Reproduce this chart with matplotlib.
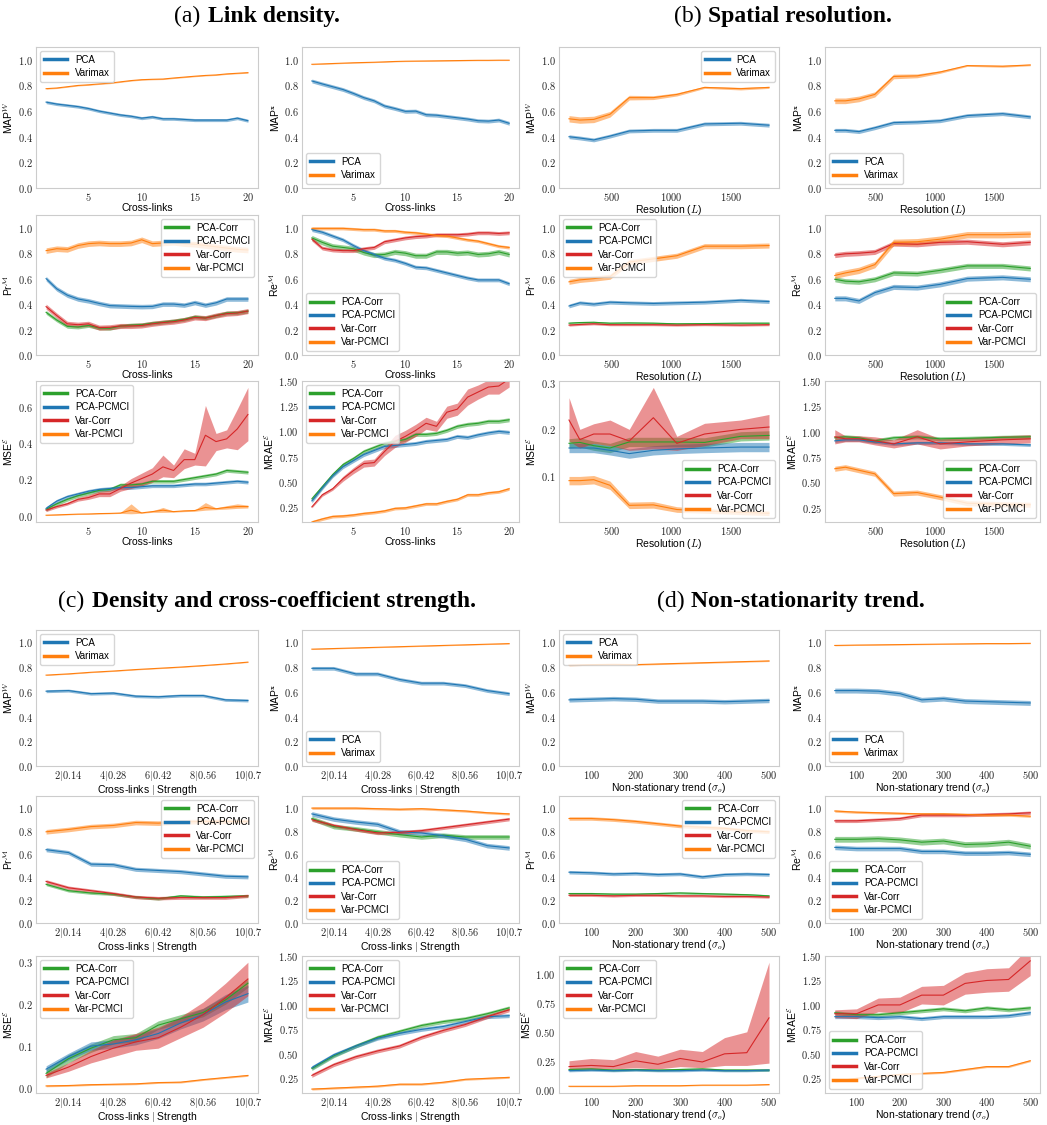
import matplotlib
matplotlib.use("Agg")
import matplotlib.pyplot as plt
import numpy as np
from matplotlib.lines import Line2D
from matplotlib.offsetbox import AnnotationBbox, HPacker, TextArea
from matplotlib.ticker import FuncFormatter

plt.rcParams["font.family"] = ["Liberation Sans", "DejaVu Sans"]
plt.rcParams["mathtext.fontset"] = "cm"

COLORS = {
    "PCA": "#1f77b4",
    "Varimax": "#ff7f0e",
    "PCA-Corr": "#2ca02c",
    "PCA-PCMCI": "#1f77b4",
    "Var-Corr": "#d62728",
    "Var-PCMCI": "#ff7f0e",
}

# ---------------- (a) link density ----------------
links = np.arange(1, 21)

link_map_w = {
    "PCA": [0.670, 0.655, 0.645, 0.635, 0.620, 0.600, 0.585, 0.570, 0.560, 0.545,
            0.555, 0.540, 0.540, 0.535, 0.530, 0.530, 0.530, 0.530, 0.545, 0.525],
    "Varimax": [0.775, 0.780, 0.790, 0.800, 0.805, 0.812, 0.818, 0.828, 0.838, 0.845,
                0.848, 0.850, 0.858, 0.865, 0.872, 0.878, 0.882, 0.890, 0.895, 0.900],
}
link_map_w_ci = {"PCA": 0.012, "Varimax": 0.004}

link_map_x = {
    "PCA": [0.835, 0.812, 0.790, 0.768, 0.738, 0.705, 0.680, 0.640, 0.620, 0.598,
            0.600, 0.572, 0.568, 0.558, 0.548, 0.538, 0.525, 0.522, 0.530, 0.505],
    "Varimax": [0.965, 0.968, 0.971, 0.974, 0.977, 0.979, 0.981, 0.984, 0.987, 0.989,
                0.990, 0.991, 0.992, 0.993, 0.994, 0.995, 0.996, 0.996, 0.997, 0.997],
}
link_map_x_ci = {"PCA": 0.015, "Varimax": 0.003}

link_pr = {
    "PCA-Corr": [0.335, 0.275, 0.225, 0.220, 0.232, 0.212, 0.210, 0.228, 0.235, 0.238,
                 0.250, 0.258, 0.268, 0.280, 0.300, 0.292, 0.310, 0.330, 0.332, 0.345],
    "PCA-PCMCI": [0.600, 0.520, 0.470, 0.440, 0.425, 0.405, 0.388, 0.385, 0.382, 0.380,
                  0.382, 0.400, 0.400, 0.392, 0.412, 0.392, 0.410, 0.440, 0.440, 0.440],
    "Var-Corr": [0.380, 0.310, 0.245, 0.238, 0.245, 0.215, 0.218, 0.228, 0.228, 0.232,
                 0.245, 0.255, 0.262, 0.275, 0.295, 0.290, 0.310, 0.325, 0.330, 0.345],
    "Var-PCMCI": [0.820, 0.835, 0.830, 0.860, 0.875, 0.880, 0.875, 0.875, 0.880, 0.905,
                  0.875, 0.880, 0.885, 0.875, 0.870, 0.860, 0.850, 0.840, 0.830, 0.825],
}
link_pr_ci = {"PCA-Corr": 0.015, "PCA-PCMCI": 0.018, "Var-Corr": 0.02, "Var-PCMCI": 0.022}

link_re = {
    "PCA-Corr": [0.920, 0.885, 0.855, 0.845, 0.835, 0.805, 0.785, 0.790, 0.810, 0.800,
                 0.780, 0.780, 0.810, 0.810, 0.800, 0.805, 0.790, 0.795, 0.810, 0.790],
    "PCA-PCMCI": [0.985, 0.965, 0.935, 0.905, 0.860, 0.820, 0.790, 0.760, 0.745, 0.720,
                  0.690, 0.685, 0.665, 0.645, 0.625, 0.605, 0.590, 0.590, 0.590, 0.560],
    "Var-Corr": [0.910, 0.840, 0.825, 0.820, 0.820, 0.835, 0.845, 0.890, 0.905, 0.920,
                 0.930, 0.935, 0.945, 0.945, 0.945, 0.950, 0.960, 0.960, 0.955, 0.960],
    "Var-PCMCI": [0.995, 0.995, 0.995, 0.995, 0.990, 0.985, 0.985, 0.975, 0.975, 0.965,
                  0.960, 0.950, 0.940, 0.935, 0.920, 0.905, 0.895, 0.875, 0.855, 0.845],
}
link_re_ci = {"PCA-Corr": 0.02, "PCA-PCMCI": 0.015, "Var-Corr": 0.015, "Var-PCMCI": 0.012}

link_mse = {
    "PCA-Corr": [0.035, 0.065, 0.090, 0.110, 0.125, 0.140, 0.145, 0.170, 0.170, 0.175,
                 0.190, 0.190, 0.190, 0.200, 0.210, 0.220, 0.230, 0.250, 0.245, 0.240],
    "PCA-PCMCI": [0.040, 0.080, 0.105, 0.120, 0.135, 0.145, 0.150, 0.155, 0.155, 0.160,
                  0.165, 0.165, 0.165, 0.170, 0.175, 0.175, 0.180, 0.185, 0.190, 0.185],
    "Var-Corr": [0.030, 0.050, 0.065, 0.090, 0.100, 0.120, 0.120, 0.150, 0.180, 0.205,
                 0.230, 0.270, 0.250, 0.310, 0.310, 0.445, 0.410, 0.425, 0.480, 0.560],
    "Var-PCMCI": [0.002, 0.004, 0.006, 0.008, 0.009, 0.011, 0.012, 0.014, 0.030, 0.015,
                  0.022, 0.030, 0.022, 0.026, 0.028, 0.045, 0.038, 0.045, 0.050, 0.050],
}
link_mse_ci = {
    "PCA-Corr": 0.01,
    "PCA-PCMCI": 0.01,
    "Var-Corr": ([0.022, 0.042, 0.058, 0.080, 0.090, 0.105, 0.105, 0.135, 0.150, 0.165,
                  0.185, 0.215, 0.210, 0.260, 0.280, 0.275, 0.360, 0.375, 0.365, 0.415],
                 [0.038, 0.058, 0.075, 0.100, 0.115, 0.135, 0.140, 0.165, 0.205, 0.235,
                  0.265, 0.335, 0.280, 0.370, 0.345, 0.610, 0.455, 0.475, 0.590, 0.710]),
    "Var-PCMCI": ([0.000, 0.002, 0.004, 0.006, 0.007, 0.009, 0.010, 0.012, 0.010, 0.013,
                   0.018, 0.018, 0.019, 0.022, 0.024, 0.030, 0.033, 0.036, 0.040, 0.042],
                  [0.004, 0.006, 0.008, 0.010, 0.011, 0.013, 0.014, 0.018, 0.065, 0.017,
                   0.026, 0.045, 0.025, 0.030, 0.032, 0.072, 0.043, 0.055, 0.065, 0.058]),
}

link_mrae = {
    "PCA-Corr": [0.330, 0.450, 0.570, 0.670, 0.730, 0.800, 0.840, 0.880, 0.900, 0.920,
                 0.970, 0.970, 0.980, 1.010, 1.050, 1.070, 1.080, 1.100, 1.100, 1.115],
    "PCA-PCMCI": [0.310, 0.440, 0.560, 0.650, 0.710, 0.770, 0.810, 0.850, 0.860, 0.870,
                  0.880, 0.900, 0.910, 0.920, 0.950, 0.940, 0.965, 0.985, 1.000, 0.990],
    "Var-Corr": [0.250, 0.370, 0.430, 0.530, 0.610, 0.680, 0.690, 0.800, 0.900, 0.950,
                 1.010, 1.080, 1.050, 1.190, 1.220, 1.340, 1.390, 1.440, 1.450, 1.520],
    "Var-PCMCI": [0.100, 0.130, 0.155, 0.160, 0.170, 0.185, 0.195, 0.210, 0.235, 0.240,
                  0.260, 0.280, 0.280, 0.305, 0.325, 0.370, 0.370, 0.390, 0.400, 0.430],
}
link_mrae_ci = {
    "PCA-Corr": 0.02,
    "PCA-PCMCI": 0.02,
    "Var-Corr": [0.01, 0.015, 0.015, 0.025, 0.03, 0.035, 0.035, 0.04, 0.06, 0.06,
                 0.06, 0.06, 0.05, 0.06, 0.06, 0.08, 0.07, 0.07, 0.08, 0.08],
    "Var-PCMCI": 0.015,
}

# ---------------- (b) spatial resolution ----------------
res = np.array([150, 240, 355, 490, 650, 850, 1045, 1275, 1575, 1810])

res_map_w = {
    "PCA": [0.400, 0.390, 0.375, 0.405, 0.445, 0.450, 0.450, 0.500, 0.505, 0.490],
    "Varimax": [0.540, 0.530, 0.535, 0.575, 0.705, 0.705, 0.730, 0.785, 0.775, 0.785],
}
res_map_w_ci = {"PCA": 0.015,
                "Varimax": [0.025, 0.025, 0.025, 0.022, 0.018, 0.015, 0.012, 0.008, 0.010, 0.008]}

res_map_x = {
    "PCA": [0.450, 0.450, 0.440, 0.470, 0.510, 0.515, 0.525, 0.565, 0.580, 0.555],
    "Varimax": [0.680, 0.680, 0.695, 0.730, 0.870, 0.875, 0.905, 0.955, 0.950, 0.960],
}
res_map_x_ci = {"PCA": 0.015,
                "Varimax": [0.022, 0.022, 0.022, 0.020, 0.018, 0.015, 0.010, 0.006, 0.008, 0.006]}

res_pr = {
    "PCA-Corr": [0.250, 0.255, 0.257, 0.250, 0.252, 0.250, 0.245, 0.247, 0.250, 0.250],
    "PCA-PCMCI": [0.385, 0.410, 0.400, 0.415, 0.410, 0.405, 0.410, 0.415, 0.430, 0.420],
    "Var-Corr": [0.235, 0.240, 0.245, 0.238, 0.238, 0.238, 0.235, 0.238, 0.235, 0.238],
    "Var-PCMCI": [0.575, 0.590, 0.600, 0.615, 0.730, 0.755, 0.780, 0.855, 0.855, 0.860],
}
res_pr_ci = {"PCA-Corr": 0.008, "PCA-PCMCI": 0.015, "Var-Corr": 0.008, "Var-PCMCI": 0.02}

res_re = {
    "PCA-Corr": [0.595, 0.580, 0.575, 0.595, 0.645, 0.640, 0.665, 0.700, 0.700, 0.680],
    "PCA-PCMCI": [0.445, 0.445, 0.425, 0.490, 0.535, 0.530, 0.555, 0.600, 0.610, 0.595],
    "Var-Corr": [0.785, 0.795, 0.800, 0.810, 0.875, 0.870, 0.885, 0.890, 0.870, 0.885],
    "Var-PCMCI": [0.625, 0.645, 0.665, 0.710, 0.885, 0.890, 0.910, 0.945, 0.945, 0.950],
}
res_re_ci = {"PCA-Corr": 0.02, "PCA-PCMCI": 0.02, "Var-Corr": 0.02, "Var-PCMCI": 0.025}

res_mse = {
    "PCA-Corr": [0.170, 0.172, 0.165, 0.160, 0.173, 0.173, 0.173, 0.172, 0.185, 0.187],
    "PCA-PCMCI": [0.160, 0.160, 0.160, 0.155, 0.148, 0.155, 0.158, 0.160, 0.162, 0.162],
    "Var-Corr": [0.220, 0.178, 0.190, 0.190, 0.175, 0.225, 0.170, 0.190, 0.200, 0.205],
    "Var-PCMCI": [0.090, 0.090, 0.092, 0.080, 0.037, 0.038, 0.028, 0.025, 0.022, 0.020],
}
res_mse_ci = {
    "PCA-Corr": 0.01,
    "PCA-PCMCI": 0.01,
    "Var-Corr": ([0.175, 0.160, 0.170, 0.165, 0.155, 0.158, 0.155, 0.165, 0.180, 0.180],
                 [0.268, 0.200, 0.212, 0.220, 0.200, 0.290, 0.185, 0.213, 0.220, 0.232]),
    "Var-PCMCI": [0.009, 0.009, 0.009, 0.009, 0.007, 0.007, 0.006, 0.005, 0.005, 0.005],
}

res_mrae = {
    "PCA-Corr": [0.940, 0.950, 0.940, 0.910, 0.940, 0.950, 0.930, 0.935, 0.945, 0.950],
    "PCA-PCMCI": [0.910, 0.920, 0.920, 0.900, 0.880, 0.890, 0.890, 0.880, 0.880, 0.870],
    "Var-Corr": [0.950, 0.930, 0.930, 0.910, 0.880, 0.950, 0.880, 0.900, 0.920, 0.930],
    "Var-PCMCI": [0.635, 0.650, 0.620, 0.585, 0.390, 0.400, 0.355, 0.295, 0.285, 0.280],
}
res_mrae_ci = {
    "PCA-Corr": 0.02,
    "PCA-PCMCI": 0.015,
    "Var-Corr": [0.07, 0.03, 0.03, 0.04, 0.04, 0.07, 0.05, 0.04, 0.04, 0.04],
    "Var-PCMCI": 0.025,
}

# ---------------- (c) density and cross-coefficient strength ----------------
strength = np.arange(1, 11)
strength_ticks = [2, 4, 6, 8, 10]
strength_ticklabels = ["2|0.14", "4|0.28", "6|0.42", "8|0.56", "10|0.7"]

strength_map_w = {
    "PCA": [0.605, 0.610, 0.585, 0.590, 0.565, 0.560, 0.570, 0.570, 0.535, 0.530],
    "Varimax": [0.735, 0.745, 0.758, 0.768, 0.780, 0.790, 0.800, 0.812, 0.825, 0.840],
}
strength_map_w_ci = {"PCA": 0.012, "Varimax": 0.003}

strength_map_x = {
    "PCA": [0.790, 0.790, 0.745, 0.745, 0.700, 0.670, 0.670, 0.650, 0.610, 0.585],
    "Varimax": [0.945, 0.950, 0.955, 0.960, 0.965, 0.970, 0.975, 0.980, 0.985, 0.990],
}
strength_map_x_ci = {"PCA": 0.015, "Varimax": 0.003}

strength_pr = {
    "PCA-Corr": [0.335, 0.280, 0.260, 0.250, 0.225, 0.210, 0.235, 0.225, 0.230, 0.235],
    "PCA-PCMCI": [0.635, 0.610, 0.510, 0.505, 0.465, 0.455, 0.445, 0.425, 0.405, 0.400],
    "Var-Corr": [0.360, 0.305, 0.280, 0.255, 0.225, 0.215, 0.220, 0.220, 0.220, 0.235],
    "Var-PCMCI": [0.790, 0.810, 0.835, 0.845, 0.870, 0.865, 0.875, 0.880, 0.880, 0.880],
}
strength_pr_ci = {"PCA-Corr": 0.012, "PCA-PCMCI": 0.018, "Var-Corr": 0.015, "Var-PCMCI": 0.02}

strength_re = {
    "PCA-Corr": [0.905, 0.835, 0.815, 0.790, 0.765, 0.745, 0.760, 0.745, 0.745, 0.745],
    "PCA-PCMCI": [0.945, 0.900, 0.875, 0.855, 0.790, 0.780, 0.755, 0.725, 0.670, 0.650],
    "Var-Corr": [0.895, 0.845, 0.810, 0.780, 0.785, 0.800, 0.825, 0.850, 0.875, 0.900],
    "Var-PCMCI": [0.995, 0.995, 0.995, 0.990, 0.985, 0.990, 0.980, 0.970, 0.955, 0.945],
}
strength_re_ci = {"PCA-Corr": 0.02, "PCA-PCMCI": 0.02, "Var-Corr": 0.015, "Var-PCMCI": 0.01}

strength_mse = {
    "PCA-Corr": [0.035, 0.070, 0.095, 0.115, 0.120, 0.150, 0.165, 0.180, 0.210, 0.250],
    "PCA-PCMCI": [0.045, 0.075, 0.100, 0.105, 0.115, 0.130, 0.155, 0.175, 0.205, 0.225],
    "Var-Corr": [0.030, 0.050, 0.075, 0.095, 0.110, 0.120, 0.145, 0.175, 0.215, 0.260],
    "Var-PCMCI": [0.005, 0.006, 0.008, 0.009, 0.010, 0.013, 0.014, 0.020, 0.025, 0.030],
}
strength_mse_ci = {
    "PCA-Corr": 0.01,
    "PCA-PCMCI": [0.008, 0.008, 0.01, 0.01, 0.012, 0.012, 0.014, 0.015, 0.018, 0.02],
    "Var-Corr": [0.006, 0.01, 0.015, 0.02, 0.02, 0.025, 0.025, 0.03, 0.035, 0.04],
    "Var-PCMCI": 0.002,
}

strength_mrae = {
    "PCA-Corr": [0.350, 0.480, 0.580, 0.670, 0.730, 0.790, 0.830, 0.860, 0.910, 0.970],
    "PCA-PCMCI": [0.360, 0.490, 0.580, 0.660, 0.710, 0.750, 0.780, 0.830, 0.880, 0.890],
    "Var-Corr": [0.280, 0.390, 0.470, 0.530, 0.580, 0.670, 0.740, 0.800, 0.880, 0.950],
    "Var-PCMCI": [0.140, 0.150, 0.160, 0.170, 0.190, 0.190, 0.210, 0.240, 0.250, 0.260],
}
strength_mrae_ci = {"PCA-Corr": 0.02, "PCA-PCMCI": 0.02, "Var-Corr": 0.02, "Var-PCMCI": 0.01}

# ---------------- (d) non-stationarity trend ----------------
trend = np.arange(50, 501, 50)

trend_map_w = {
    "PCA": [0.535, 0.540, 0.545, 0.540, 0.525, 0.525, 0.525, 0.520, 0.525, 0.530],
    "Varimax": [0.815, 0.820, 0.822, 0.820, 0.825, 0.830, 0.835, 0.840, 0.845, 0.850],
}
trend_map_w_ci = {"PCA": 0.018, "Varimax": 0.005}

trend_map_x = {
    "PCA": [0.610, 0.610, 0.605, 0.585, 0.535, 0.545, 0.525, 0.520, 0.515, 0.510],
    "Varimax": [0.975, 0.978, 0.980, 0.982, 0.984, 0.986, 0.988, 0.990, 0.990, 0.992],
}
trend_map_x_ci = {"PCA": 0.02, "Varimax": 0.003}

trend_pr = {
    "PCA-Corr": [0.255, 0.255, 0.250, 0.250, 0.255, 0.260, 0.255, 0.250, 0.245, 0.235],
    "PCA-PCMCI": [0.440, 0.435, 0.425, 0.430, 0.420, 0.425, 0.400, 0.420, 0.425, 0.420],
    "Var-Corr": [0.240, 0.240, 0.235, 0.240, 0.240, 0.235, 0.235, 0.230, 0.230, 0.225],
    "Var-PCMCI": [0.905, 0.905, 0.895, 0.880, 0.860, 0.840, 0.830, 0.820, 0.800, 0.790],
}
trend_pr_ci = {"PCA-Corr": 0.01, "PCA-PCMCI": 0.015, "Var-Corr": 0.01, "Var-PCMCI": 0.015}

trend_re = {
    "PCA-Corr": [0.725, 0.725, 0.730, 0.720, 0.700, 0.710, 0.680, 0.685, 0.700, 0.665],
    "PCA-PCMCI": [0.655, 0.645, 0.645, 0.645, 0.620, 0.620, 0.605, 0.605, 0.610, 0.595],
    "Var-Corr": [0.885, 0.885, 0.895, 0.905, 0.935, 0.935, 0.935, 0.940, 0.945, 0.955],
    "Var-PCMCI": [0.970, 0.960, 0.955, 0.950, 0.945, 0.945, 0.940, 0.935, 0.935, 0.925],
}
trend_re_ci = {"PCA-Corr": 0.025, "PCA-PCMCI": 0.02, "Var-Corr": 0.015, "Var-PCMCI": 0.01}

trend_mse = {
    "PCA-Corr": [0.175, 0.180, 0.170, 0.175, 0.170, 0.175, 0.180, 0.170, 0.170, 0.170],
    "PCA-PCMCI": [0.165, 0.170, 0.165, 0.170, 0.165, 0.165, 0.170, 0.165, 0.165, 0.170],
    "Var-Corr": [0.200, 0.210, 0.200, 0.250, 0.220, 0.270, 0.240, 0.310, 0.320, 0.620],
    "Var-PCMCI": [0.030, 0.030, 0.030, 0.035, 0.035, 0.035, 0.040, 0.040, 0.040, 0.045],
}
trend_mse_ci = {
    "PCA-Corr": 0.01,
    "PCA-PCMCI": 0.01,
    "Var-Corr": ([0.180, 0.180, 0.180, 0.190, 0.180, 0.200, 0.190, 0.210, 0.210, 0.230],
                 [0.250, 0.270, 0.260, 0.330, 0.290, 0.350, 0.330, 0.450, 0.500, 1.100]),
    "Var-PCMCI": 0.004,
}

trend_mrae = {
    "PCA-Corr": [0.920, 0.900, 0.900, 0.920, 0.940, 0.960, 0.940, 0.970, 0.950, 0.970],
    "PCA-PCMCI": [0.880, 0.880, 0.870, 0.880, 0.860, 0.880, 0.880, 0.880, 0.890, 0.920],
    "Var-Corr": [0.910, 0.910, 1.000, 1.000, 1.100, 1.100, 1.220, 1.250, 1.260, 1.450],
    "Var-PCMCI": [0.220, 0.250, 0.270, 0.290, 0.300, 0.310, 0.340, 0.370, 0.370, 0.430],
}
trend_mrae_ci = {
    "PCA-Corr": 0.02,
    "PCA-PCMCI": 0.02,
    "Var-Corr": [0.04, 0.05, 0.07, 0.08, 0.09, 0.10, 0.11, 0.12, 0.12, 0.15],
    "Var-PCMCI": 0.01,
}

# ---------------- layout (pixels) ----------------
W, H = 1047, 1125
COLS = [(36, 258), (302, 519), (559, 779), (825, 1040)]
ROWS_TOP = [(47, 188), (215, 355), (381, 522)]
ROWS_BOTTOM = [(630, 766), (796, 923), (956, 1093)]

UNIT = [0, 0.2, 0.4, 0.6, 0.8, 1.0]
MRAE_TICKS = [0.25, 0.5, 0.75, 1.0, 1.25, 1.5]

fig = plt.figure(figsize=(W / 100, H / 100), dpi=100)


def rect(col, row):
    l, r = col
    t, b = row
    return [l / W, 1 - b / H, (r - l) / W, (b - t) / H]


def n_decimals(ticks):
    for d in range(4):
        if np.allclose(np.round(ticks, d), ticks):
            return d
    return 3


def panel(col, row, x, means, cis, ylabel, xlabel, loc, xticks,
          ylim=None, yticks=None, xticklabels=None):
    ax = fig.add_axes(rect(col, row))
    for name, vals in means.items():
        vals = np.asarray(vals)
        ci = cis[name]
        if isinstance(ci, tuple):
            lo, hi = np.asarray(ci[0]), np.asarray(ci[1])
        else:
            lo, hi = vals - np.asarray(ci), vals + np.asarray(ci)
        ax.fill_between(x, lo, hi, color=COLORS[name], alpha=0.5, lw=0)
        ax.plot(x, vals, color=COLORS[name], lw=0.8)

    if ylim is not None:
        ax.set_ylim(*ylim)
    if yticks is not None:
        ax.set_yticks(yticks)
    d = n_decimals(np.asarray(ax.get_yticks()))
    ax.yaxis.set_major_formatter(FuncFormatter(lambda v, p, d=d: f"${v:.{d}f}$"))

    ax.set_xticks(xticks)
    if xticklabels is not None:
        ax.set_xticklabels([f"${s}$" for s in xticklabels])
    else:
        ax.xaxis.set_major_formatter(FuncFormatter(lambda v, p: f"${v:.0f}$"))

    ax.tick_params(length=0, labelsize=7.5, pad=2.5, colors="#262626")
    for s in ax.spines.values():
        s.set_color("#cccccc")
        s.set_linewidth(0.8)
    ax.set_ylabel(ylabel, fontsize=7.5, labelpad=2)
    ax.set_xlabel(xlabel, fontsize=7.5, labelpad=0)

    handles = [Line2D([], [], color=COLORS[n], lw=2.5) for n in means]
    ax.legend(handles, list(means), loc=loc, fontsize=7, handlelength=2.4,
              labelspacing=0.35, borderpad=0.4, handletextpad=0.8, borderaxespad=0.4)
    return ax


def caption(x, y, tag, text):
    serif = dict(family="Liberation Serif", size=17)
    box = HPacker(children=[TextArea(tag, textprops=serif),
                            TextArea(text, textprops=dict(serif, weight="bold"))],
                  sep=5, align="baseline", pad=0)
    fig.add_artist(AnnotationBbox(box, (x / W, 1 - y / H), xycoords="figure fraction",
                                  frameon=False, box_alignment=(0.5, 0.5)))


MAP_W = r"MAP$^{\mathcal{W}}$"
MAP_X = r"MAP$^{\mathbf{x}}$"
PR = r"Pr$^{\mathcal{M}}$"
RE = r"Re$^{\mathcal{M}}$"
MSE = r"MSE$^{\mathcal{E}}$"
MRAE = r"MRAE$^{\mathcal{E}}$"

# (a) link density
xl = "Cross-links"
lt = [5, 10, 15, 20]
r = ROWS_TOP
panel(COLS[0], r[0], links, link_map_w, link_map_w_ci, MAP_W, xl, "upper left", lt, (0, 1.1), UNIT)
panel(COLS[1], r[0], links, link_map_x, link_map_x_ci, MAP_X, xl, "lower left", lt, (0, 1.1), UNIT)
panel(COLS[0], r[1], links, link_pr, link_pr_ci, PR, xl, "upper right", lt, (0, 1.1), UNIT)
panel(COLS[1], r[1], links, link_re, link_re_ci, RE, xl, "lower left", lt, (0, 1.1), UNIT)
panel(COLS[0], r[2], links, link_mse, link_mse_ci, MSE, xl, "upper left", lt, None, [0, 0.2, 0.4, 0.6])
panel(COLS[1], r[2], links, link_mrae, link_mrae_ci, MRAE, xl, "upper left", lt, (0.1, 1.5), MRAE_TICKS)

# (b) spatial resolution
xl = r"Resolution ($L$)"
rt = [500, 1000, 1500]
panel(COLS[2], r[0], res, res_map_w, res_map_w_ci, MAP_W, xl, "upper right", rt, (0, 1.1), UNIT)
panel(COLS[3], r[0], res, res_map_x, res_map_x_ci, MAP_X, xl, "lower left", rt, (0, 1.1), UNIT)
panel(COLS[2], r[1], res, res_pr, res_pr_ci, PR, xl, "upper left", rt, (0, 1.1), UNIT)
panel(COLS[3], r[1], res, res_re, res_re_ci, RE, xl, "lower right", rt, (0, 1.1), UNIT)
panel(COLS[2], r[2], res, res_mse, res_mse_ci, MSE, xl, "lower right", rt, None, [0.1, 0.2, 0.3])
panel(COLS[3], r[2], res, res_mrae, res_mrae_ci, MRAE, xl, "lower right", rt, (0.11, 1.5), MRAE_TICKS)

# (c) density and cross-coefficient strength
xl = r"Cross-links $|$ Strength"
st, sl = strength_ticks, strength_ticklabels
r = ROWS_BOTTOM
panel(COLS[0], r[0], strength, strength_map_w, strength_map_w_ci, MAP_W, xl, "upper left", st, (0, 1.1), UNIT, sl)
panel(COLS[1], r[0], strength, strength_map_x, strength_map_x_ci, MAP_X, xl, "lower left", st, (0, 1.1), UNIT, sl)
panel(COLS[0], r[1], strength, strength_pr, strength_pr_ci, PR, xl, "upper right", st, (0, 1.1), UNIT, sl)
panel(COLS[1], r[1], strength, strength_re, strength_re_ci, RE, xl, "lower left", st, (0, 1.1), UNIT, sl)
panel(COLS[0], r[2], strength, strength_mse, strength_mse_ci, MSE, xl, "upper left", st, None, [0, 0.1, 0.2, 0.3], sl)
panel(COLS[1], r[2], strength, strength_mrae, strength_mrae_ci, MRAE, xl, "upper left", st, (0.1, 1.5), MRAE_TICKS, sl)

# (d) non-stationarity trend
xl = r"Non-stationary trend ($\sigma_o$)"
tt = [100, 200, 300, 400, 500]
panel(COLS[2], r[0], trend, trend_map_w, trend_map_w_ci, MAP_W, xl, "upper left", tt, (0, 1.1), UNIT)
panel(COLS[3], r[0], trend, trend_map_x, trend_map_x_ci, MAP_X, xl, "lower left", tt, (0, 1.1), UNIT)
panel(COLS[2], r[1], trend, trend_pr, trend_pr_ci, PR, xl, "upper right", tt, (0, 1.1), UNIT)
panel(COLS[3], r[1], trend, trend_re, trend_re_ci, RE, xl, "lower left", tt, (0, 1.1), UNIT)
panel(COLS[2], r[2], trend, trend_mse, trend_mse_ci, MSE, xl, "upper left", tt, None, [0, 0.25, 0.5, 0.75, 1.0])
panel(COLS[3], r[2], trend, trend_mrae, trend_mrae_ci, MRAE, xl, "lower left", tt, (0.1, 1.5), MRAE_TICKS)

caption(257, 16, "(a)", "Link density.")
caption(783, 16, "(b)", "Spatial resolution.")
caption(267, 601, "(c)", "Density and cross-coefficient strength.")
caption(791, 601, "(d)", "Non-stationarity trend.")

fig.savefig("out.png", dpi=100)
